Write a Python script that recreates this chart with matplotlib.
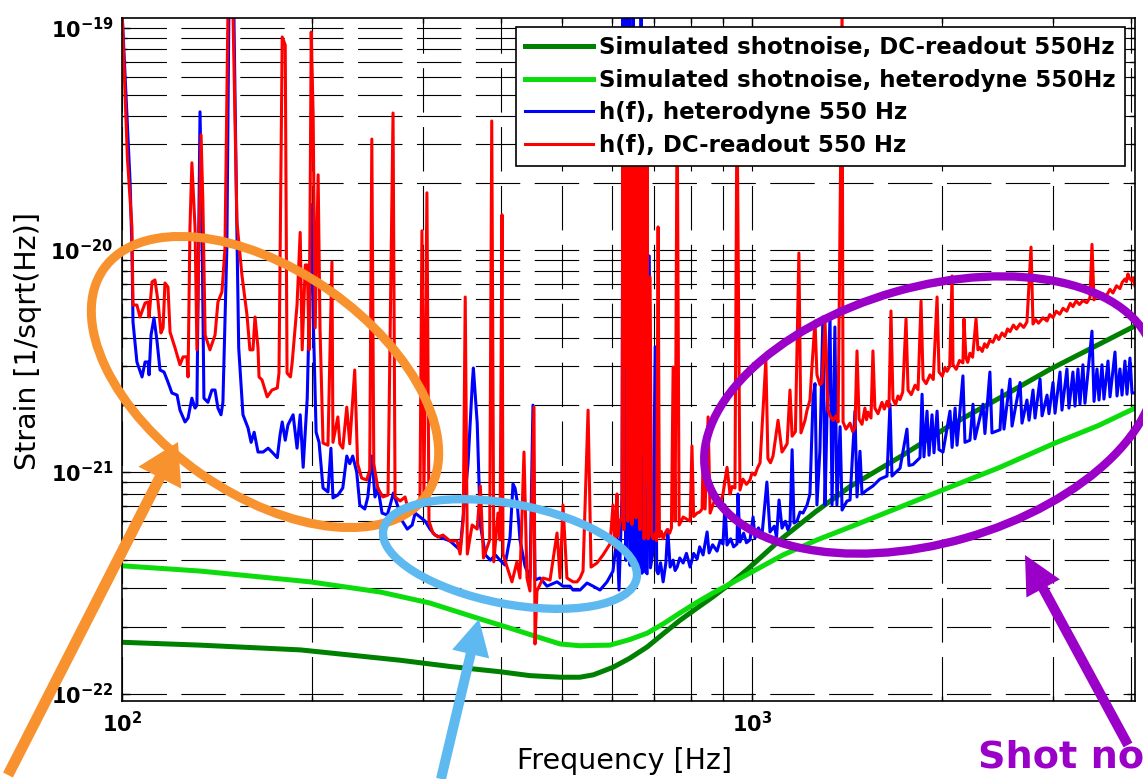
import numpy as np
import matplotlib
matplotlib.use("Agg")
import matplotlib.pyplot as plt
from matplotlib.patches import Ellipse, FancyArrow
from matplotlib.ticker import NullFormatter, LogLocator

# strain values below are in units of 1e-22 1/sqrt(Hz), frequency in Hz
UNIT = 1e-22

dc_shot = [(100, 1.71), (133, 1.66), (192, 1.58), (276, 1.42), (332, 1.33), (398, 1.26),
           (444, 1.21), (496, 1.19), (533, 1.19), (560, 1.22), (602, 1.32), (640, 1.45),
           (682, 1.63), (725, 1.88), (769, 2.15), (820, 2.45), (867, 2.74), (925, 3.15),
           (981, 3.62), (1040, 4.2), (1108, 4.94), (1260, 6.6), (1431, 8.6), (1718, 11.7),
           (2062, 16.2), (2476, 21.6), (2972, 29.0), (3568, 37.8), (4055, 45.5)]

het_shot = [(100, 3.78), (133, 3.58), (199, 3.20), (257, 2.88), (308, 2.57), (366, 2.20),
            (413, 1.98), (456, 1.81), (496, 1.68), (533, 1.65), (595, 1.66), (640, 1.76),
            (682, 1.88), (725, 2.08), (769, 2.32), (820, 2.60), (867, 2.85), (930, 3.17),
            (993, 3.51), (1120, 4.23), (1270, 4.95), (1431, 5.65), (1718, 6.95), (2062, 8.55),
            (2476, 10.5), (3027, 13.5), (3550, 16.2), (4055, 19.4)]

blue_pts = [
    (100, 1200), (103.0, 202), (103.7, 102), (104.1, 47.4), (105.6, 31.3), (107.6, 26.8),
    (108.8, 31.3), (110.0, 31.3), (110.4, 27.4), (111.2, 41.4), (112.4, 49.4), (113.6, 39.3),
    (114.9, 28.8), (116.6, 28.2), (118.3, 25.4), (120.0, 22.7), (122.3, 22.2), (123.6, 19.0),
    (125.9, 16.8), (127.3, 17.5), (129.1, 21.5), (130.6, 19.4), (131.5, 20.0), (133.0, 419),
    (134.0, 120), (134.9, 21.5), (136.9, 20.6), (138.9, 23.4), (140.5, 23.4), (142.0, 19.4),
    (143.6, 18.1), (144.6, 20.6), (146.7, 102), (147.8, 1200), (150.5, 1200), (152.2, 120),
    (153.2, 36.2), (155.6, 18.1), (158.5, 15.8), (160.3, 13.6), (162.1, 15.1), (164.4, 12.3),
    (167.5, 12.3), (170.6, 12.8), (173.0, 12.3), (176.4, 11.6), (178.2, 14.7), (179.6, 16.8),
    (181.6, 13.9), (183.4, 16.3), (186.9, 18.1), (189.6, 12.8), (191.8, 18.1), (193.9, 10.5),
    (196.8, 21.5), (198.2, 51.0), (199.7, 160), (201.1, 51.0), (203.3, 15.1), (205.5, 13.6),
    (208.5, 8.47), (212.3, 8.13), (214.6, 12.8), (216.2, 7.64), (220.1, 7.87), (224.1, 8.47),
    (227.4, 11.8), (229.9, 10.9), (232.4, 11.8), (235.8, 10.0), (238.5, 7.10), (242.9, 6.81),
    (245.6, 7.72), (249.2, 11.8), (252.1, 7.72), (254.9, 8.47), (258.7, 6.53), (263.6, 6.40),
    (266.5, 7.10), (269.6, 8.04), (273.6, 7.10), (278.6, 6.01), (283.7, 5.53), (288.8, 5.77),
    (292.0, 6.53), (297.3, 6.27), (302.8, 6.01), (308.3, 5.53), (314.0, 5.20), (319.8, 5.09),
    (331.6, 4.89), (344.1, 4.45), (354.2, 10.9), (359.9, 25.4), (361.2, 29.4), (366.3, 16.6),
    (370.5, 5.77), (377.5, 4.23), (384.3, 4.01), (391.5, 4.23), (398.1, 4.01), (405.5, 3.81),
    (413.0, 5.09), (417.5, 8.83), (420.6, 8.47), (423.6, 7.48), (428.3, 4.94), (436.2, 3.77),
    (444.2, 3.33), (449.1, 20.0), (452.5, 3.26), (460.8, 3.33), (472.7, 3.06), (490.4, 3.20),
    (501.2, 3.06), (514.2, 3.06), (519.9, 2.94), (533.4, 2.94), (547.2, 3.16), (559.4, 3.06),
    (573.8, 2.94), (588.7, 3.20), (601.7, 3.58), (610.6, 5.15), (615.1, 2.94), (621.9, 7.96),
    (624.2, 1200), (626.5, 10.0), (628.8, 1200), (631.0, 4.0), (633.4, 1200), (636.0, 5.0),
    (638.1, 1200), (640.5, 3.8), (643.0, 800), (645.5, 4.0), (647.5, 1200), (650.0, 3.9),
    (652.3, 300), (655.0, 3.7), (659.5, 53.7), (662.0, 3.6), (666.8, 1200), (669.0, 3.5),
    (671.7, 200), (675.0, 3.6), (681.7, 3.48), (687.0, 94.0), (690.0, 3.7), (696.8, 4.40),
    (702.0, 36.6), (706.0, 3.6), (709.6, 3.48), (716.0, 3.9), (722.7, 3.20), (730.0, 3.9),
    (735.0, 5.5), (741.5, 3.73), (749.6, 4.01), (755.0, 3.6), (760.7, 3.73), (768.0, 4.1),
    (777.6, 3.89), (787.0, 4.3), (797.6, 3.73), (808.0, 4.3), (818.3, 4.05), (826.0, 4.6),
    (836.3, 4.23), (848.7, 5.37), (854.9, 4.32), (866.0, 4.7), (880.3, 4.40), (890.0, 4.9),
    (899.5, 4.74), (906.2, 7.10), (912.8, 4.69), (925.0, 5.0), (935.0, 4.6), (946.7, 4.74),
    (950.1, 7.96), (957.0, 4.84), (970.0, 5.3), (980.0, 4.8), (992.7, 4.94), (1004, 6.27),
    (1011, 5.04), (1024, 5.6), (1037, 5.15), (1056, 9.01), (1068, 5.37), (1085, 5.7),
    (1094, 5.1), (1104, 7.48), (1116, 5.59), (1130, 6.0), (1140, 5.5), (1149, 5.77),
    (1158, 12.6), (1166, 5.89), (1179, 6.01), (1192, 6.6), (1205, 6.53), (1223, 7.10),
    (1236, 7.96), (1250, 21.5), (1259, 25.0), (1268, 7.10), (1282, 12.6), (1296, 49.9),
    (1306, 7.10), (1315, 17.1), (1330, 49.9), (1340, 7.10), (1354, 45.0), (1364, 7.10),
    (1380, 16.0), (1390, 6.74), (1415, 7.40), (1431, 7.48), (1457, 18.8), (1468, 7.72),
    (1484, 12.4), (1495, 7.96), (1522, 8.29), (1556, 8.65), (1596, 9.29), (1638, 9.59),
    (1656, 20.2), (1668, 9.59), (1718, 10.4), (1762, 15.6), (1775, 10.7), (1801, 10.8),
    (1848, 11.6), (1862, 22.4), (1875, 11.7), (1896, 18.8), (1910, 11.9), (1931, 18.1),
    (1945, 12.2), (1967, 18.8), (1981, 12.6), (2010, 12.3), (2062, 18.8), (2078, 12.9),
    (2101, 19.4), (2116, 13.2), (2162, 27.1), (2178, 13.6), (2218, 13.9), (2243, 20.2),
    (2259, 14.1), (2326, 20.2), (2343, 14.9), (2386, 28.2), (2404, 15.0), (2476, 15.5),
    (2494, 23.4), (2512, 15.6), (2568, 26.2), (2587, 16.1), (2664, 25.3), (2683, 16.6),
    (2732, 21.1), (2753, 17.1), (2793, 23.4), (2814, 17.5), (2866, 26.2), (2887, 17.9),
    (2940, 22.2), (2961, 18.3), (3005, 25.3), (3027, 18.4), (3083, 28.2), (3105, 19.0),
    (3162, 29.1), (3185, 19.4), (3232, 28.2), (3256, 19.8), (3292, 29.1), (3316, 20.2),
    (3352, 30.4), (3377, 20.4), (3465, 43.1), (3491, 20.8), (3529, 29.1), (3555, 21.1),
    (3594, 30.4), (3620, 21.3), (3674, 31.6), (3701, 21.8), (3769, 34.7), (3797, 22.0),
    (3838, 29.1), (3867, 22.2), (3909, 31.6), (3938, 22.4), (3981, 32.6), (4011, 22.7),
    (4055, 22.7)]

red_pts = [
    (100, 1200), (102, 259), (103.7, 126), (104.1, 56.5), (105.6, 56.5), (106.8, 49.9),
    (108.8, 57.7), (110.0, 58.3), (110.4, 49.9), (111.6, 71.8), (112.8, 73.3), (114.1, 58.3),
    (115.3, 42.3), (116.2, 44.6), (117.0, 71.0), (118.3, 68.1), (119.2, 42.7), (121.4, 36.2),
    (123.6, 30.4), (125.0, 33.0), (126.8, 33.0), (127.3, 26.8), (128.2, 126), (129.1, 247),
    (130.6, 126), (131.5, 35.5), (132.5, 109), (133.5, 330), (134.4, 164), (135.5, 41.4),
    (137.9, 35.5), (140.5, 41.4), (142.0, 58.3), (144.1, 64.7), (145.7, 102), (147.3, 1200),
    (150.0, 1200), (152.2, 134), (155.0, 77.2), (157.9, 51.0), (159.6, 35.5), (161.4, 35.5),
    (162.6, 49.9), (164.4, 36.2), (165.0, 26.8), (166.8, 26.0), (170.0, 21.8), (173.0, 23.4),
    (176.4, 23.9), (177.5, 27.9), (179.6, 911), (181.6, 838), (182.8, 27.9), (185.1, 26.8),
    (186.3, 31.3), (189.6, 56.5), (191.8, 120), (193.2, 35.5), (195.4, 85.6), (196.8, 85.6),
    (198.2, 35.5), (199.7, 959), (201.1, 406), (202.6, 44.6), (204.8, 218), (206.2, 44.6),
    (208.5, 13.5), (212.3, 13.2), (215.4, 88.3), (216.2, 13.6), (220.1, 17.7), (221.7, 13.4),
    (224.1, 12.8), (227.4, 19.6), (229.9, 13.4), (234.1, 28.8), (236.6, 10.9), (240.1, 9.39),
    (244.6, 9.20), (247.3, 10.2), (249.2, 316), (251.0, 10.9), (254.7, 8.47), (259.5, 7.72),
    (264.4, 7.87), (269.3, 414), (271.3, 7.72), (276.4, 7.40), (281.4, 7.72), (284.5, 6.81),
    (289.6, 6.53), (293.9, 6.81), (297.1, 7.10), (299.3, 122), (301.5, 7.87), (304.8, 181),
    (307.1, 6.01), (311.5, 5.31), (317.3, 5.09), (323.2, 5.20), (331.6, 4.89), (340.3, 4.89),
    (344.1, 4.27), (348.1, 6.08), (350.6, 61.4), (353.3, 4.27), (359.6, 5.77), (366.3, 5.53),
    (370.5, 8.65), (374.8, 4.10), (383.4, 4.94), (386.3, 381), (389.2, 3.94), (395.2, 6.53),
    (398.1, 4.94), (401.1, 144), (402.5, 4.27), (410.0, 3.62), (415.9, 3.20), (423.6, 3.94),
    (428.3, 3.33), (434.6, 12.3), (439.4, 3.33), (444.2, 2.91), (450.8, 19.6), (452.5, 1.68),
    (455.7, 2.91), (465.9, 3.33), (478.0, 3.26), (486.8, 4.64), (490.4, 5.31), (495.8, 3.33),
    (501.2, 7.10), (508.5, 3.33), (519.9, 3.20), (527.6, 3.20), (533.4, 3.33), (539.3, 3.58),
    (549.3, 19.0), (555.3, 3.73), (567.5, 3.89), (580.1, 4.23), (595.2, 4.74), (601.7, 7.10),
    (606.1, 4.55), (610.6, 7.96), (612.9, 5.15), (617.4, 6.08), (621.9, 6.08), (624.2, 700),
    (626.0, 5.5), (628.8, 800), (631.0, 30), (633.4, 700), (635.5, 6.0), (638.1, 900),
    (640.5, 50), (642.8, 600), (645.0, 5.8), (647.5, 800), (650.0, 20), (652.3, 700),
    (654.5, 6.2), (657.1, 900), (659.5, 40), (661.9, 500), (664.0, 5.5), (666.8, 400),
    (669.0, 12), (671.7, 500), (674.2, 5.0), (676.7, 300), (679.2, 9.0), (681.7, 400),
    (684.0, 5.0), (689.0, 75.5), (693.0, 5.2), (697.0, 5.0), (701.9, 5.3), (705.5, 4.9),
    (709.6, 127), (713.0, 5.1), (718.0, 5.4), (722.7, 5.0), (728.0, 5.3), (733.4, 5.5),
    (740.0, 5.3), (745.0, 5.6), (749.6, 29.7), (755.1, 6.01), (760.7, 500), (766.3, 5.77),
    (772.0, 6.0), (777.6, 6.27), (790.0, 6.1), (797.6, 6.01), (803.0, 13.1), (808.0, 6.3),
    (818.3, 6.53), (826.0, 6.6), (833.3, 6.81), (836.3, 11.6), (842.5, 6.81), (851.8, 17.7),
    (858.1, 6.53), (870.0, 7.3), (880.3, 7.64), (890.0, 7.2), (899.5, 7.96), (912.8, 10.5),
    (922.9, 7.96), (930.0, 8.6), (939.7, 8.47), (946.7, 500), (957.0, 8.29), (967.6, 9.29),
    (980.0, 8.8), (992.7, 9.20), (1000, 9.9), (1011, 9.69), (1020, 10.4), (1030, 11.0),
    (1052, 32.0), (1060, 11.5), (1070, 11.0), (1080, 11.8), (1100, 17.1), (1116, 12.3),
    (1128, 12.9), (1137, 13.4), (1149, 23.4), (1158, 14.5), (1172, 15.2), (1187, 96.9),
    (1196, 15.0), (1214, 17.1), (1223, 19.0), (1236, 21.1), (1245, 29.7), (1259, 47.9),
    (1268, 27.4), (1282, 24.7), (1292, 25.3), (1306, 47.9), (1320, 19.0), (1332, 17.8),
    (1345, 17.1), (1358, 17.9), (1370, 16.8), (1390, 1200),
    (1395, 16.8), (1410, 15.6), (1431, 16.6), (1445, 15.2), (1457, 15.9), (1468, 35.1),
    (1479, 17.3), (1495, 16.4), (1511, 19.4), (1520, 17.2), (1528, 18.6), (1545, 17.5),
    (1556, 35.1), (1567, 19.4), (1585, 18.3), (1608, 20.6), (1622, 19.2), (1638, 20.8),
    (1650, 19.6), (1662, 53.1), (1674, 21.3), (1690, 20.1), (1705, 22.0), (1718, 21.2),
    (1735, 22.9), (1756, 48.9), (1769, 23.4), (1790, 22.3), (1815, 24.6), (1835, 23.5),
    (1855, 58.9), (1869, 26.2), (1890, 25.0), (1917, 27.4), (1940, 26.1), (1967, 61.4),
    (1981, 28.2), (2005, 27.0), (2025, 29.6), (2040, 28.4), (2060, 29.9), (2078, 76.4),
    (2085, 30.4), (2110, 29.0), (2135, 31.8), (2162, 31.0), (2170, 48.9), (2186, 32.6),
    (2200, 31.2), (2218, 34.3), (2240, 32.9), (2268, 48.9), (2284, 35.5), (2301, 36.3),
    (2320, 34.9), (2340, 37.8), (2360, 36.4), (2385, 39.2), (2412, 38.4), (2440, 41.3),
    (2465, 39.5), (2494, 42.3), (2520, 40.8), (2545, 44.1), (2568, 42.9), (2600, 45.9),
    (2630, 44.0), (2664, 46.5), (2700, 44.8), (2732, 47.4), (2773, 103), (2793, 46.4),
    (2820, 48.6), (2850, 46.8), (2897, 49.5), (2940, 47.9), (2970, 51.2), (3005, 49.6),
    (3040, 53.0), (3080, 51.4), (3117, 54.6), (3160, 53.0), (3200, 57.5), (3232, 55.6),
    (3270, 59.0), (3310, 56.8), (3352, 59.2), (3400, 57.9), (3440, 61.0), (3465, 106),
    (3491, 59.6), (3530, 62.8), (3570, 60.5), (3607, 63.5), (3650, 62.0), (3700, 66.5),
    (3741, 64.0), (3790, 69.0), (3838, 67.0), (3870, 71.5), (3909, 74.0), (3930, 72.0),
    (3952, 78.0), (3975, 74.5), (4011, 72.5), (4030, 75.0), (4055, 68.9)]

legend_labels = ["Simulated shotnoise, DC-readout 550Hz",
                 "Simulated shotnoise, heterodyne 550Hz",
                 "h(f), heterodyne 550 Hz",
                 "h(f), DC-readout 550 Hz"]
ytick_vals = [1e-22, 1e-21, 1e-20, 1e-19]
ytick_text = [r"$\mathbf{10^{-22}}$", r"$\mathbf{10^{-21}}$", r"$\mathbf{10^{-20}}$", r"$\mathbf{10^{-19}}$"]
xtick_vals = [100, 1000]
xtick_text = [r"$\mathbf{10^{2}}$", r"$\mathbf{10^{3}}$"]


def series(pts):
    a = np.array(pts, dtype=float)
    return a[:, 0], a[:, 1] * UNIT


W, H = 1143, 779
fig = plt.figure(figsize=(W / 100, H / 100), dpi=100)
ax = fig.add_axes([122 / W, 1 - 701 / H, (1135 - 122) / W, (701 - 18) / H])
ax.set_xscale("log")
ax.set_yscale("log")

f, h = series(dc_shot)
l1, = ax.plot(f, h, color="#008000", lw=3.6, label=legend_labels[0])
f, h = series(het_shot)
l2, = ax.plot(f, h, color="#0CDC0C", lw=3.6, label=legend_labels[1])
f, h = series(blue_pts)
l3, = ax.plot(f, h, color="#0000FF", lw=2.2, label=legend_labels[2])
f, h = series(red_pts)
l4, = ax.plot(f, h, color="#FF0000", lw=2.2, label=legend_labels[3])

ax.set_xlim(100, 4055)
ax.set_ylim(9.3e-23, 1.109e-19)

ax.set_yticks(ytick_vals)
ax.set_yticklabels(ytick_text)
ax.set_xticks(xtick_vals)
ax.set_xticklabels(xtick_text)
ax.xaxis.set_minor_locator(LogLocator(base=10, subs=np.arange(2, 10)))
ax.yaxis.set_minor_locator(LogLocator(base=10, subs=np.arange(2, 10)))
ax.xaxis.set_minor_formatter(NullFormatter())
ax.yaxis.set_minor_formatter(NullFormatter())
ax.tick_params(which="both", direction="in", top=True, right=True, width=1.0)
ax.tick_params(which="major", length=6, labelsize=15, pad=6)
ax.tick_params(which="minor", length=3.5)
ax.tick_params(axis="x", which="major", pad=7)

ax.set_axisbelow(True)
ax.grid(which="both", linestyle=(0, (40, 13)), linewidth=0.8, color="black")
for s in ax.spines.values():
    s.set_linewidth(1.2)

ax.set_xlabel("Frequency [Hz]", fontsize=20.5, va="center")
ax.xaxis.set_label_coords((625 - 122) / 1013, (701 - 761) / 683)
ax.set_ylabel("Strain [1/sqrt(Hz)]", fontsize=20.5, va="center")
ax.yaxis.set_label_coords((28 - 122) / 1013, (701 - 341) / 683)

leg = ax.legend(handles=[l1, l2, l3, l4], loc="upper right",
                bbox_to_anchor=((1125 - 122) / 1013, (701 - 27) / 683), borderaxespad=0,
                prop=dict(weight="bold", size=16.5), frameon=True, fancybox=False,
                framealpha=1, edgecolor="black", handlelength=3.0, handletextpad=0.25,
                borderpad=0.4, labelspacing=0.42)
leg.get_frame().set_linewidth(1.2)

# hand-drawn style highlights on top of the figure (pixel coordinates)
ov = fig.add_axes([0, 0, 1, 1])
ov.set_xlim(0, W)
ov.set_ylim(H, 0)
ov.axis("off")

orange = "#F7922F"
lblue = "#5DB9F0"
purple = "#9A00C8"
ov.add_patch(Ellipse((265, 382), 394, 224, angle=35, fill=False, ec=orange, lw=6.5))
ov.add_patch(Ellipse((510, 554), 258, 100, angle=10.9, fill=False, ec=lblue, lw=6))
ov.add_patch(Ellipse((930, 415), 464, 256, angle=-16, fill=False, ec=purple, lw=6))

ov.add_patch(FancyArrow(8, 775, 170, -333, width=11, head_width=48, head_length=40,
                        length_includes_head=True, color=orange, lw=0))
ov.add_patch(FancyArrow(441, 779, 38, -160, width=10, head_width=38, head_length=36,
                        length_includes_head=True, color=lblue, lw=0))
ov.add_patch(FancyArrow(1128, 745, -103, -190, width=10, head_width=38, head_length=38,
                        length_includes_head=True, color=purple, lw=0))
ov.text(978, 767, "Shot no", color=purple, fontsize=27.5, fontweight="bold",
        ha="left", va="baseline")

fig.savefig("out.png", dpi=100)
